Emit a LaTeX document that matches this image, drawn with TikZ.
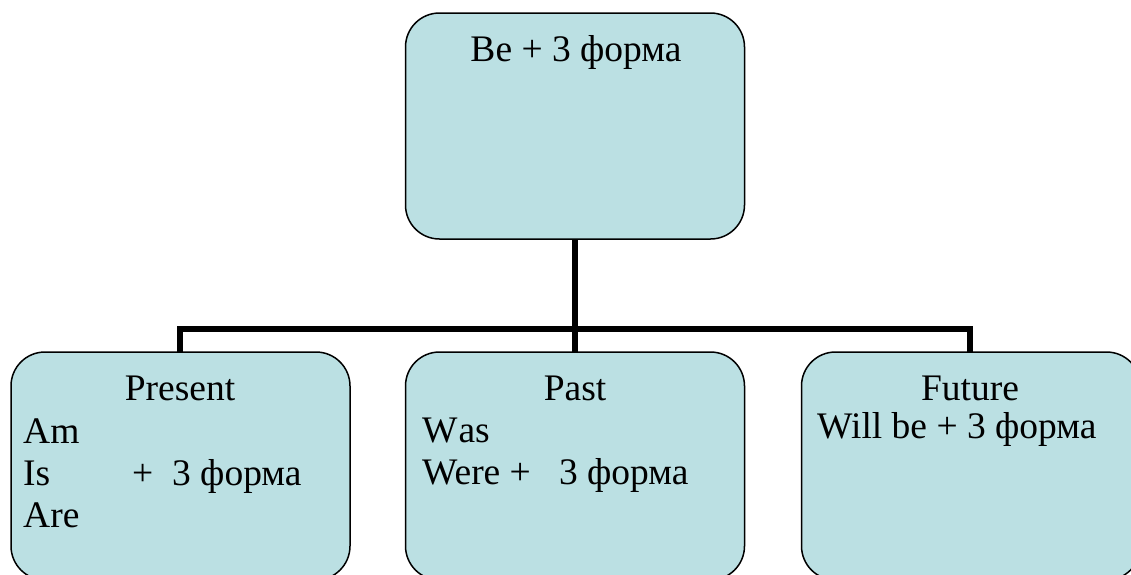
\documentclass[tikz,border=0pt]{standalone}
\usepackage{fontspec}
\setmainfont{Liberation Serif}
\newfontfamily\tnr{Liberation Serif}
\definecolor{boxfill}{HTML}{BBE0E3}
\tikzset{
  box/.style={draw=black, line width=1.5pt, fill=boxfill, rounded corners=34pt,
    minimum width=339pt, minimum height=228pt, inner sep=0pt, outer sep=0pt},
  link/.style={draw=black, line width=6pt},
  lbl/.style={font=\tnr\fontsize{37.5pt}{42.5pt}\selectfont, inner sep=0pt, text=black}
}
\begin{document}
\begin{tikzpicture}[x=1pt,y=-1pt]
\clip (0,0) rectangle (1131,574);
\fill[white] (0,0) rectangle (1131,574);
% boxes
\node[box, minimum height=226pt] (top) at (575,126) {};
\node[box] (pres) at (180.5,466) {};
\node[box] (past) at (575,466) {};
\node[box] (fut) at (971,466) {};
% connectors
\draw[link] (top.south) -- (past.north);
\draw[link] (pres.north -| 180,0) -- (180,328.5) -- (970,328.5) -- (fut.north -| 970,0);
% texts
\node[lbl, anchor=base] (ttop) at (576,61) {Be + 3 форма};
\node[lbl, anchor=base] (tpres) at (180,400) {Present};
\node[lbl, anchor=base west] (tam) at (23,443) {Am};
\node[lbl, anchor=base west] (tis) at (23,485) {Is};
\node[lbl, anchor=base west] (tisf) at (132,485) {+\ \ 3 форма};
\node[lbl, anchor=base west] (tare) at (23,527) {Are};
\node[lbl, anchor=base] (tpast) at (575,400) {Past};
\node[lbl, anchor=base west] (twas) at (422,442) {W\kern1pt as};
\node[lbl, anchor=base west] (twere) at (422,484) {Were +\ \ \ 3 форма};
\node[lbl, anchor=base] (tfut) at (970,400) {Future};
\node[lbl, anchor=base west] (twill) at (817,438) {Will be + 3 форма};
\end{tikzpicture}
\end{document}
